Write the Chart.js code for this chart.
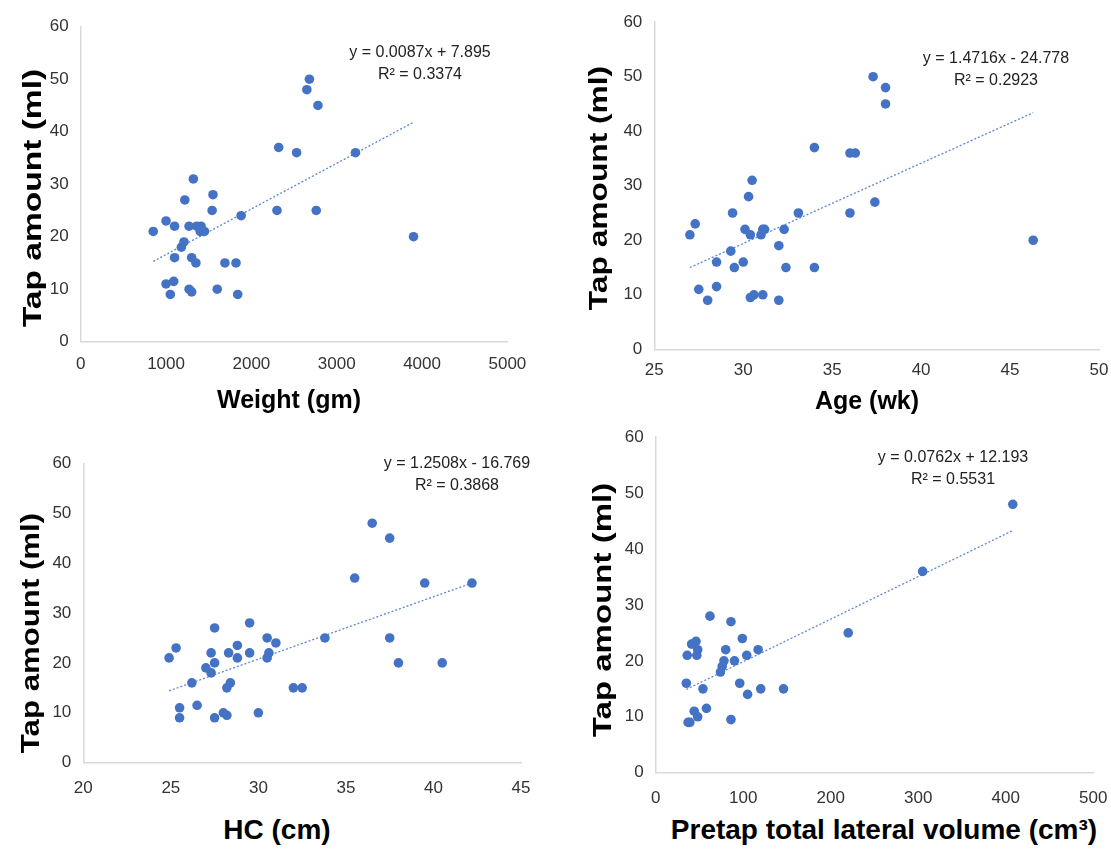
<!DOCTYPE html>
<html>
<head>
<meta charset="utf-8">
<script src="https://cdn.jsdelivr.net/npm/chart.js@4.4.1/dist/chart.umd.min.js"></script>
<style>
  body { margin: 0; background: #fff; width: 1111px; height: 850px; position: relative; overflow: hidden;
         font-family: "Liberation Sans", Arial, sans-serif; }
  canvas { position: absolute; }
  .ytitle, .xtitle, .eq { position: absolute; white-space: nowrap; color: #000; }
  .ytitle { font-weight: bold; font-size: 26px; line-height: 26px; }
  .xtitle { font-weight: bold; transform: translateX(-50%); }
  .eq { font-size: 16px; line-height: 22px; text-align: center; transform: translateX(-50%); color: #222; }
</style>
</head>
<body>
<canvas id="c1"></canvas>
<canvas id="c2"></canvas>
<canvas id="c3"></canvas>
<canvas id="c4"></canvas>

<!-- axis titles + trendline labels -->
<div class="ytitle" style="left:32px;top:198px;transform:translate(-50%,-50%) rotate(-90deg) scaleX(1.29)">Tap amount (ml)</div>
<div class="ytitle" style="left:598px;top:188px;transform:translate(-50%,-50%) rotate(-90deg) scaleX(1.22)">Tap amount (ml)</div>
<div class="ytitle" style="left:30px;top:633px;transform:translate(-50%,-50%) rotate(-90deg) scaleX(1.2)">Tap amount (ml)</div>
<div class="ytitle" style="left:602px;top:610px;transform:translate(-50%,-50%) rotate(-90deg) scaleX(1.27)">Tap amount (ml)</div>

<div class="xtitle" style="left:289px;top:387px;font-size:25px;line-height:25px">Weight (gm)</div>
<div class="xtitle" style="left:867px;top:388px;font-size:25px;line-height:25px">Age (wk)</div>
<div class="xtitle" style="left:277px;top:816px;font-size:28px;line-height:28px">HC (cm)</div>
<div class="xtitle" style="left:884px;top:816px;font-size:28px;line-height:28px">Pretap total lateral volume (cm³)</div>

<div class="eq" style="left:420px;top:41px">y = 0.0087x + 7.895<br>R² = 0.3374</div>
<div class="eq" style="left:996px;top:47px">y = 1.4716x - 24.778<br>R² = 0.2923</div>
<div class="eq" style="left:457px;top:452px">y = 1.2508x - 16.769<br>R² = 0.3868</div>
<div class="eq" style="left:953px;top:446px">y = 0.0762x + 12.193<br>R² = 0.5531</div>

<script>
// ---- data ----
// weight (gm) vs tap amount (ml)
const weightX = [2680, 2650, 2780, 2320, 2530, 3220, 1320, 1550, 1220, 1540, 2300, 2760, 1880, 1000, 1100, 1270, 1360, 1410,
                 1400, 1450, 850, 3900, 1210, 1180, 1100, 1300, 1350, 1690, 1820, 1090, 1000, 1270, 1300, 1600, 1050, 1840];
const weightY = [50, 48, 45, 37, 36, 36, 31, 28, 27, 25, 25, 25, 24, 23, 22, 22, 22, 22,
                 21, 21, 21, 20, 19, 18, 16, 16, 15, 15, 15, 11.5, 11, 10, 9.5, 10, 9, 9];
const weightTrendX = [850, 3900];
const weightTrendY = [15.3, 41.8];

// age (wk)
const ageX = [37.3, 38, 38, 34, 36, 36.3, 30.5, 30.3, 29.4, 33.1, 36, 37.4, 27.3, 27, 30.1, 30.4, 31, 31.1,
              31.2, 32.3, 46.3, 32, 29.3, 28.5, 30, 29.5, 32.4, 34, 27.5, 28.5, 28, 30.4, 30.6, 31.1, 32];
const ageY = [50, 48, 45, 37, 36, 36, 31, 28, 25, 25, 25, 27, 23, 21, 22, 21, 21, 22,
              22, 22, 20, 19, 18, 16, 16, 15, 15, 15, 11, 11.5, 9, 9.5, 10, 10, 9];
const ageTrendX = [27, 46.3];
const ageTrendY = [15.0, 43.4];

// HC (cm)
const hcX = [36.5, 37.5, 35.5, 39.5, 42.2, 29.5, 27.5, 30.5, 33.8, 37.5, 31, 28.8, 25.3, 27.3, 28.3, 29.5, 30.6, 24.9, 28.8,
             30.5, 27.5, 38, 40.5, 27, 27.3, 26.2, 28.4, 28.2, 32, 32.5, 26.5, 25.5, 25.5, 27.5, 28, 28.2, 30];
const hcY = [48, 45, 37, 36, 36, 28, 27, 25, 25, 25, 24, 23.5, 23, 22, 22, 22, 22, 21, 21,
             21, 20, 20, 20, 19, 18, 16, 16, 15, 15, 15, 11.5, 11, 9, 9, 10, 9.5, 10];
const hcTrendX = [24.9, 42.2];
const hcTrendY = [14.4, 36.0];

// pretap total lateral volume (cm3)
const volX = [408, 305, 220, 62, 86, 99, 41, 46, 48, 80, 117, 36, 47, 104, 78, 90, 76, 74,
              35, 96, 54, 120, 146, 105, 58, 44, 48, 37, 39, 86];
const volY = [48, 36, 25, 28, 27, 24, 23, 23.5, 22, 22, 22, 21, 21, 21, 20, 20, 19, 18,
              16, 16, 15, 15, 15, 14, 11.5, 11, 10, 9, 9, 9.5];
const volTrendX = [35, 408];
const volTrendY = [14.9, 43.3];

// tick labels
const tapTicks = [0, 10, 20, 30, 40, 50, 60];
const weightTicks = [0, 1000, 2000, 3000, 4000, 5000];
const ageTicks = [25, 30, 35, 40, 45, 50];
const hcTicks = [20, 25, 30, 35, 40, 45];
const volTicks = [0, 100, 200, 300, 400, 500];

const blue = '#4472C4';
const tickFont = { family: '"Liberation Sans Narrow", "Arial Narrow", "Liberation Sans", Arial, sans-serif', size: 17 };

function toPoints(xs, ys) {
  return xs.map((x, i) => ({ x: x, y: ys[i] }));
}

// box: canvas placement (cx, cy, cw, ch) + plot area edges on the page (L, T, R, B)
// canvases on the right run past the page edge so the last x label does not squeeze the axis
function drawPanel(id, box, xs, ys, trendX, trendY, xTicks, yTicks) {
  const cv = document.getElementById(id);
  cv.width = box.cw;
  cv.height = box.ch;
  cv.style.left = box.cx + 'px';
  cv.style.top = box.cy + 'px';

  const axis = (ticks, fit) => ({
    type: 'linear',
    min: ticks[0],
    max: ticks[ticks.length - 1],
    ticks: { stepSize: ticks[1] - ticks[0], font: tickFont, color: '#333', padding: fit.pad,
             callback: v => String(v) },
    grid: { drawOnChartArea: false, drawTicks: false },
    border: { color: '#d9d9d9', width: 1.5 },
    afterFit: fit.fn
  });

  return new Chart(cv, {
    type: 'scatter',
    data: {
      datasets: [
        {
          data: toPoints(xs, ys),
          backgroundColor: blue,
          borderWidth: 0,
          pointRadius: 4.8,
          pointHoverRadius: 4.8
        },
        {
          data: toPoints(trendX, trendY),
          showLine: true,
          borderColor: '#5a86d4',
          borderWidth: 1.3,
          borderDash: [2, 2],
          pointRadius: 0,
          fill: false
        }
      ]
    },
    options: {
      responsive: false,
      animation: false,
      devicePixelRatio: 1,
      layout: {
        padding: { left: 0, top: box.T - box.cy, right: box.cx + box.cw - box.R, bottom: 0 }
      },
      plugins: { legend: { display: false }, tooltip: { enabled: false } },
      scales: {
        x: axis(xTicks, { pad: box.xPad, fn: s => { s.height = box.cy + box.ch - box.B; } }),
        y: axis(yTicks, { pad: 12, fn: s => { s.width = box.L - box.cx; } })
      }
    }
  });
}

drawPanel('c1', { cx: 0, cy: 0, cw: 555, ch: 390, L: 80.7, T: 26.7, R: 507.4, B: 341.7, xPad: 12 },
  weightX, weightY, weightTrendX, weightTrendY, weightTicks, tapTicks);
drawPanel('c2', { cx: 555, cy: 0, cw: 600, ch: 390, L: 654.3, T: 18.7, R: 1099, B: 349.3, xPad: 11 },
  ageX, ageY, ageTrendX, ageTrendY, ageTicks, tapTicks);
drawPanel('c3', { cx: 0, cy: 415, cw: 555, ch: 395, L: 83.3, T: 463.3, R: 521, B: 762.7, xPad: 15 },
  hcX, hcY, hcTrendX, hcTrendY, hcTicks, tapTicks);
drawPanel('c4', { cx: 555, cy: 415, cw: 600, ch: 395, L: 655.7, T: 436.7, R: 1093.3, B: 772.7, xPad: 15 },
  volX, volY, volTrendX, volTrendY, volTicks, tapTicks);
</script>
</body>
</html>
